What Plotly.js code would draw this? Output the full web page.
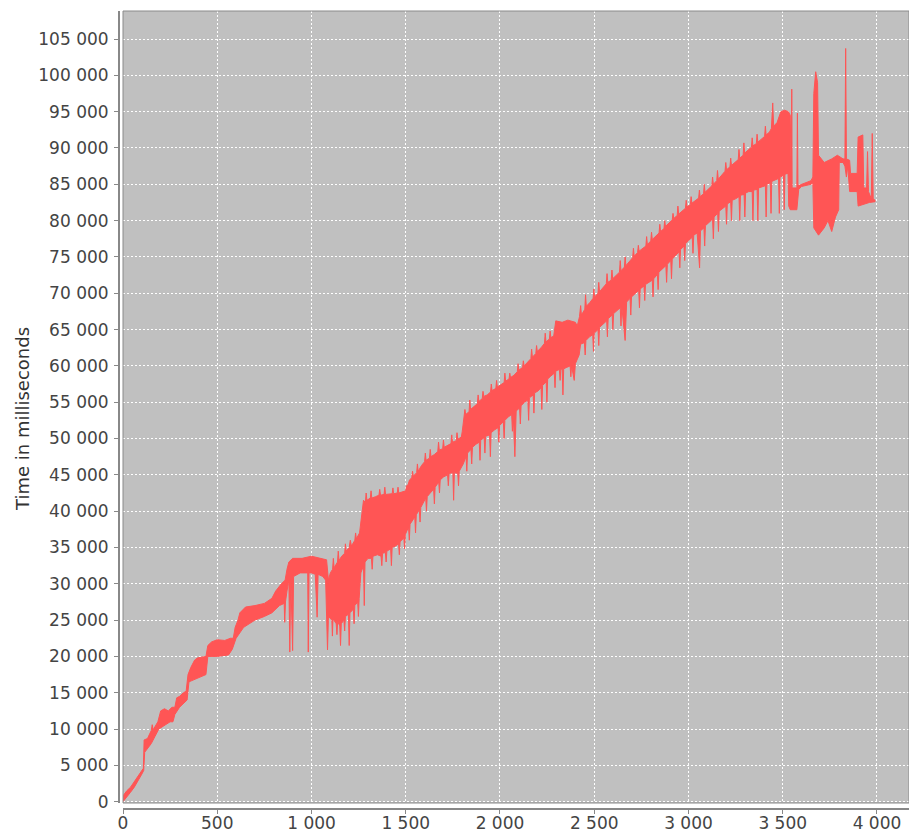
<!DOCTYPE html>
<html>
<head>
<meta charset="utf-8">
<script src="https://cdn.plot.ly/plotly-3.0.1.min.js"></script>
<style>html,body{margin:0;padding:0;background:#fff;}#chart{width:909px;height:833px;}</style>
</head>
<body>
<div id="chart"></div>
<script>
// Upper edge of the measured series: [run index, time in ms]
const upperPts = [[0,800],[20,1500],[40,2000],[60,2800],[80,3500],[100,4300],[108,4600],[112,8500],[130,8700],[150,9800],[155,10600],[160,9900],[170,10300],[185,11000],[200,12500],[220,12800],[240,12500],[260,13000],[275,13000],[285,14300],[300,14500],[320,15000],[335,15200],[345,17500],[360,18500],[380,19500],[395,19800],[440,20000],[450,21500],[470,22000],[500,22300],[540,22200],[570,22500],[585,22500],[595,24000],[610,25000],[620,26000],[650,26800],[700,27000],[750,27300],[790,28000],[810,29000],[840,30000],[860,30500],[870,32000],[880,33000],[900,33500],[950,33500],[1000,33800],[1050,33500],[1080,33300],
[1090,30500],[1100,31500],[1112,32000],[1116,33500],[1120,32200],[1138,33000],[1142,34500],[1146,33200],[1160,33800],[1176,34200],[1180,35500],[1184,34500],[1200,35000],[1206,36000],[1212,35200],[1230,36000],[1234,37000],[1238,36200],[1255,37000],[1260,38000],[1268,39500],[1276,41500],[1286,41200],[1290,42500],[1294,41500],[1312,41800],[1316,42800],[1320,41800],[1340,42000],[1358,42200],[1362,43000],[1366,42200],[1385,42300],[1389,43300],[1393,42300],[1410,42300],[1428,42400],[1432,43200],[1436,42400],[1455,42500],[1459,43300],[1463,42500],[1482,42600],[1500,42800],[1504,43500],[1512,43600],[1520,44300],[1532,44600],[1536,45500],[1540,44800],[1558,45300],[1562,46500],[1566,45500],[1584,46300],[1600,46800],[1604,48000],[1608,47000],[1626,47300],[1630,48500],[1634,47500],[1652,47800],[1670,48200],[1674,49500],[1678,48400],[1696,48600],[1700,49800],[1704,48800],[1722,49000],[1740,49300],[1744,50500],[1748,49500],[1768,49700],[1772,50800],[1776,49900],[1795,50200],[1800,51000],
[1810,52800],[1814,54000],[1818,53300],[1836,53700],[1840,55300],[1844,54000],[1862,54400],[1880,54800],[1884,56000],[1888,55100],[1906,55500],[1910,56500],[1914,55800],[1932,56000],[1950,56400],[1954,57500],[1958,56600],[1978,56900],[1982,58000],[1986,57100],[2004,57400],[2022,57700],[2026,59000],[2030,57900],[2048,58200],[2052,59000],[2056,58400],[2074,58700],[2092,59200],[2096,60300],[2100,59400],[2120,59800],[2124,60700],[2128,60000],[2146,60500],[2164,61000],[2168,62300],[2172,61200],[2190,61700],[2194,62800],[2198,62000],[2218,62500],[2236,63100],[2240,64500],[2244,63300],[2262,63700],[2266,64800],[2270,63900],[2285,64100],[2290,65000],[2296,66200],[2330,66000],[2360,66300],[2400,66000],[2410,65500],
[2422,66800],[2428,68300],[2432,67000],[2450,67800],[2454,69800],[2458,68200],[2476,68700],[2494,69300],[2498,70600],[2502,69500],[2520,70000],[2524,71500],[2528,70200],[2546,70800],[2564,71300],[2568,72700],[2572,71500],[2590,71800],[2594,73200],[2598,72000],[2616,72400],[2634,72900],[2638,74500],[2642,73100],[2660,73600],[2664,75000],[2668,73800],[2686,74300],[2704,74900],[2708,76200],[2712,75100],[2730,75600],[2734,76600],[2738,75800],[2756,76100],[2774,76500],[2778,77800],[2782,76700],[2800,77200],[2804,78400],[2808,77400],[2826,77800],[2844,78300],[2848,79500],[2852,78500],[2870,78900],[2874,80000],[2878,79200],[2896,79600],[2914,80100],[2918,81000],[2922,80300],[2940,80700],[2944,82000],[2948,80900],[2966,81300],[2984,81700],[2988,82800],[2992,81900],
[3010,82200],[3014,83300],[3018,82400],[3036,82700],[3054,83100],[3058,84200],[3062,83300],[3080,83700],[3084,85000],[3088,83900],[3106,84300],[3124,84800],[3128,86000],[3132,85000],[3150,85500],[3154,86900],[3158,85700],[3176,86200],[3194,86800],[3198,88000],[3202,87000],[3220,87400],[3224,88600],[3228,87600],[3246,88000],[3264,88400],[3268,89800],[3272,88600],[3290,89000],[3294,90700],[3298,89300],[3316,89700],[3334,90100],[3338,91400],[3342,90300],[3360,90600],[3364,91900],[3368,90800],[3386,91200],[3404,91600],[3408,93000],[3412,91800],[3430,92200],[3440,92700],[3447,96200],[3452,93000],[3470,93500],[3490,95000],[3510,95200],[3530,95000],[3540,94500],
[3543,84500],[3546,84500],[3548,98100],[3550,84500],[3575,84500],[3578,94800],[3581,84800],[3600,85000],[3650,85500],[3660,86000],[3665,97500],[3675,100500],[3685,99000],[3690,89000],[3720,88000],[3760,88500],[3790,89000],[3820,88500],[3830,88500],[3834,103700],[3838,88500],[3855,88300],[3860,86500],[3895,86500],[3900,91500],[3925,91800],[3930,84500],[3945,84500],[3950,89500],[3955,84000],[3970,83000],[3975,92000],[3980,83000],[3990,82800]];

// Lower edge of the measured series: [run index, time in ms]
const lowerPts = [[0,0],[20,700],[40,1300],[60,2000],[80,2800],[100,3800],[110,4300],[115,6800],[150,8000],[170,9000],[190,10000],[220,10500],[250,11000],[265,11000],[275,12000],[300,13000],[340,14000],[350,16500],[390,17000],[440,17500],[450,20000],[500,20000],[560,20200],[580,21000],[600,22500],[640,24000],[700,25000],[750,25500],[790,26000],[830,27000],[855,27300],[858,24700],[862,27500],[870,29000],[880,30500],[885,20600],[890,31000],[900,20800],[905,31000],[940,31500],[980,31500],[983,20600],[987,31500],[1000,31500],[1020,31300],[1030,25400],[1035,31300],[1060,31000],[1075,30500],
[1085,20900],[1090,25500],[1108,25000],[1111,22800],[1114,25200],[1131,24500],[1135,23000],[1139,24800],[1150,24200],[1154,21500],[1158,24500],[1172,25000],[1176,23500],[1180,25500],[1196,25800],[1200,21500],[1204,26000],[1222,26500],[1226,24500],[1230,27000],[1245,27500],[1249,25500],[1253,28000],[1262,31500],[1276,32500],[1280,27000],[1284,33000],[1300,33500],[1318,33500],[1322,32000],[1326,33800],[1350,34000],[1369,33800],[1373,32500],[1377,34200],[1392,34300],[1396,33000],[1400,34500],[1420,34800],[1424,32500],[1428,35000],[1446,35200],[1462,35500],[1466,34000],[1470,35800],[1490,36300],[1494,34800],[1498,36800],
[1515,37800],[1519,36000],[1523,38200],[1548,39200],[1552,37000],[1556,39500],[1572,40200],[1576,38500],[1580,40500],[1606,41800],[1610,40000],[1614,42000],[1630,42500],[1648,43000],[1652,41000],[1656,43300],[1675,44000],[1679,42500],[1683,44300],[1700,44700],[1722,45000],[1726,43500],[1730,45200],[1750,45300],[1754,41500],[1758,45300],[1776,45200],[1780,43500],[1784,45500],[1805,46500],[1820,47500],[1824,45500],[1828,48000],[1846,48500],[1850,46500],[1854,48800],[1872,49200],[1890,49500],[1894,47000],[1898,49800],[1916,50100],[1920,48000],[1924,50300],[1945,50500],[1949,47500],[1953,50800],[1972,51200],[1990,51500],[1994,49500],[1998,51800],
[2018,52300],[2022,50000],[2026,52500],[2045,53000],[2062,53300],[2066,51000],[2070,53500],[2079,47500],[2086,53800],[2104,54200],[2108,52000],[2112,54500],[2130,55000],[2148,55300],[2152,52500],[2156,55600],[2176,56000],[2180,53500],[2184,56300],[2200,56500],[2218,57000],[2222,54000],[2226,57300],[2245,57800],[2249,55000],[2253,58200],[2270,58600],[2288,59000],[2292,57000],[2296,59300],[2315,59500],[2319,58000],[2323,59600],[2330,59500],[2334,56000],[2338,59600],[2355,59800],[2372,60000],[2376,58500],[2380,60000],[2394,58000],[2400,60300],
[2420,61500],[2428,63000],[2448,63200],[2452,61500],[2456,63500],[2475,64000],[2492,64300],[2496,62000],[2500,64500],[2520,65000],[2524,62800],[2528,65300],[2548,65800],[2566,66200],[2570,64000],[2574,66500],[2595,67000],[2599,65000],[2603,67200],[2620,67600],[2638,68000],[2642,65500],[2646,68200],[2664,63500],[2672,68800],[2690,69300],[2694,67000],[2698,69500],[2718,70000],[2736,70400],[2740,68000],[2744,70600],[2764,71000],[2768,69000],[2772,71200],[2790,71500],[2808,71800],[2812,69500],[2816,72000],[2835,72600],[2839,70500],[2843,72900],[2862,73300],[2880,73800],[2884,71500],[2888,74000],[2906,74500],[2910,72000],[2914,74700],[2932,75200],[2950,75700],[2954,73500],[2958,76000],[2976,76500],[2980,74500],[2984,76800],
[3002,77300],[3020,77700],[3024,75500],[3028,78000],[3046,78300],[3059,73500],[3064,78600],[3082,79000],[3086,76500],[3090,79300],[3110,79800],[3128,80200],[3132,77500],[3136,80500],[3155,81000],[3159,78500],[3163,81300],[3180,81700],[3198,82000],[3202,79500],[3206,82300],[3224,82600],[3228,80000],[3232,82800],[3250,83000],[3268,83300],[3272,80000],[3276,83500],[3295,83600],[3299,80500],[3303,83800],[3320,84000],[3338,84000],[3342,80000],[3346,84200],[3364,84300],[3368,80000],[3372,84500],[3390,84600],[3408,84800],[3412,80500],[3416,85000],[3434,85200],[3438,81000],[3442,85400],[3460,85600],[3478,85800],[3482,81000],[3486,86000],[3504,86200],[3508,81500],[3512,86400],[3528,86500],[3532,82000],[3540,81500],
[3575,81500],[3585,84300],[3600,84700],[3650,85000],[3660,85200],[3665,79000],[3690,78000],[3720,79000],[3740,80000],[3760,78500],[3780,80500],[3797,81500],[3800,88000],[3820,88000],[3830,87500],[3838,86000],[3845,87500],[3855,84000],[3870,84000],[3895,84000],[3900,82000],[3930,82200],[3960,82500],[3990,82600]];

const yTickVals = [0,5000,10000,15000,20000,25000,30000,35000,40000,45000,50000,55000,60000,65000,70000,75000,80000,85000,90000,95000,100000,105000];
const yTickText = ["0","5 000","10 000","15 000","20 000","25 000","30 000","35 000","40 000","45 000","50 000","55 000","60 000","65 000","70 000","75 000","80 000","85 000","90 000","95 000","100 000","105 000"];
const xTickVals = [0,500,1000,1500,2000,2500,3000,3500,4000];
const xTickText = ["0","500","1 000","1 500","2 000","2 500","3 000","3 500","4 000"];
const yTitle = "Time in milliseconds";

const lowerRev = lowerPts.slice().reverse();
const polyX = upperPts.map(p => p[0]).concat(lowerRev.map(p => p[0]));
const polyY = upperPts.map(p => p[1]).concat(lowerRev.map(p => p[1]));

const trace = {
  x: polyX, y: polyY, type: 'scatter', mode: 'lines',
  fill: 'toself', fillcolor: '#ff5555',
  line: {color: '#ff5555', width: 1},
  hoverinfo: 'skip', showlegend: false
};

const fontFam = '"DejaVu Sans", Verdana, sans-serif';
const layout = {
  width: 909, height: 833,
  margin: {l: 118, r: 0, t: 11, b: 25, pad: 0},
  paper_bgcolor: '#ffffff',
  plot_bgcolor: '#c0c0c0',
  showlegend: false,
  font: {family: fontFam, size: 17, color: '#444'},
  xaxis: {
    domain: [5/791, 1],
    anchor: 'free', position: 0,
    range: [0, 4170],
    tickvals: xTickVals, ticktext: xTickText,
    ticks: 'outside', ticklen: 4, tickcolor: '#888', tickwidth: 1,
    ticklabelstandoff: -5,
    showline: true, linecolor: '#888', linewidth: 1.5,
    showgrid: true, gridcolor: '#ffffff', griddash: '2px,2px', gridwidth: 1,
    zeroline: false,
    tickfont: {family: fontFam, size: 17, color: '#444'}
  },
  yaxis: {
    domain: [5/797, 1],
    anchor: 'free', position: 0,
    range: [-180, 108860],
    tickvals: yTickVals, ticktext: yTickText,
    ticks: 'outside', ticklen: 4, tickcolor: '#888', tickwidth: 1,
    ticklabelstandoff: 2,
    showline: true, linecolor: '#888', linewidth: 1.5,
    showgrid: true, gridcolor: '#ffffff', griddash: '2px,2px', gridwidth: 1,
    zeroline: false,
    tickfont: {family: fontFam, size: 17, color: '#444'}
  },
  annotations: [
    {text: yTitle, xref: 'paper', yref: 'paper', x: (22 - 118) / 791, y: (808 - 419) / 797,
     xanchor: 'center', yanchor: 'middle', textangle: -90, showarrow: false,
     font: {family: fontFam, size: 18, color: '#333'}}
  ],
  shapes: [
    {type: 'rect', xref: 'paper', yref: 'paper', x0: 5/791, x1: 1, y0: 5/797, y1: 1,
     line: {color: '#8a8a8a', width: 1}, fillcolor: 'rgba(0,0,0,0)', layer: 'above'}
  ]
};

Plotly.newPlot('chart', [trace], layout, {displayModeBar: false, staticPlot: true});
</script>
</body>
</html>
